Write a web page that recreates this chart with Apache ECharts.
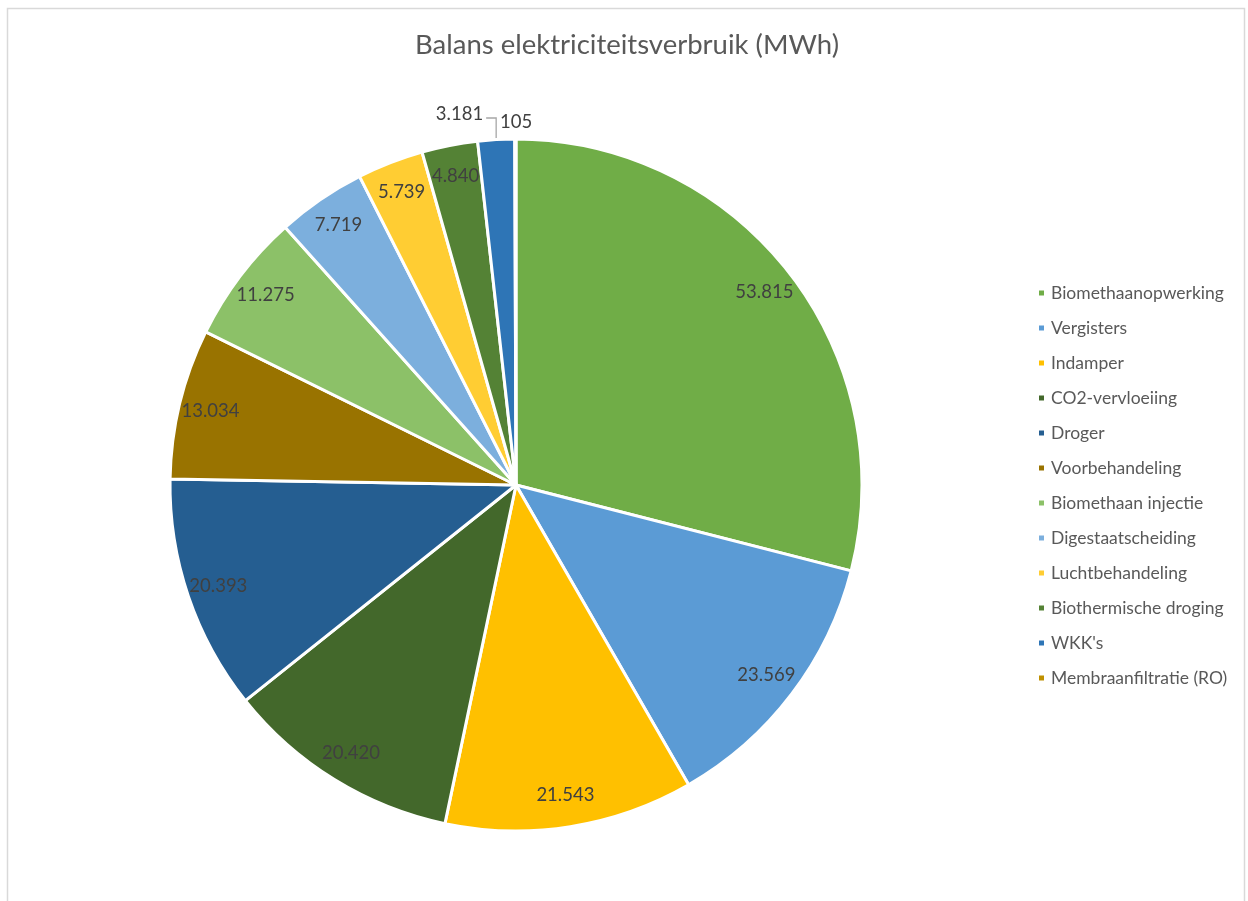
<!DOCTYPE html>
<html>
<head>
<meta charset="utf-8">
<script src="https://cdn.jsdelivr.net/npm/echarts@6/dist/echarts.min.js"></script>
<style>
html,body{margin:0;padding:0;background:#fff;}
#chart{width:1248px;height:901px;}
</style>
</head>
<body>
<div id="chart"></div>
<script>
const categories = ['Biomethaanopwerking','Vergisters','Indamper','CO2-vervloeiing','Droger','Voorbehandeling','Biomethaan injectie','Digestaatscheiding','Luchtbehandeling','Biothermische droging',"WKK's",'Membraanfiltratie (RO)'];
const values = [53815,23569,21543,20420,20393,13034,11275,7719,5739,4840,3181,105];
const colors = ['#70AD47','#5B9BD5','#FFC000','#43682B','#255E91','#997300','#8CC168','#7CAFDD','#FFCD33','#548235','#2E75B6','#BF9000'];
const titleText = 'Balans elektriciteitsverbruik (MWh)';

function fmt(v){ return String(v).replace(/\B(?=(\d{3})+(?!\d))/g,'.'); }

const FONT = 'Lato';
const CX = 516, CY = 485, R = 346;
const LBL = 18.5;

const mainData = categories.map((n,i)=>{
  const d = {name:n, value:values[i], itemStyle:{color:colors[i]}};
  if (i >= categories.length-2) {
    d.label = {show:true, position:'outside', formatter:p=>fmt(p.value), color:'#404040', fontSize:LBL, fontFamily:FONT};
    d.labelLine = {show: i === categories.length-2, length:14, length2:8, lineStyle:{color:'#A6A6A6', width:1.3}};
  }
  return d;
});
const ringData = categories.map((n,i)=>({
  name:n, value:values[i],
  label:{show: i < categories.length-2}
}));

const chart = echarts.init(document.getElementById('chart'), null, {renderer:'canvas'});
chart.setOption({
  animation:false,
  backgroundColor:'#fff',
  color: colors,
  title:{text:titleText, left:622, top:26, textAlign:'center',
    textStyle:{fontFamily:FONT, fontSize:27.5, fontWeight:'normal', color:'#595959'}},
  legend:{
    orient:'vertical', left:1032, top:279, itemGap:17,
    icon:'rect', itemWidth:7, itemHeight:7,
    data:categories,
    textStyle:{fontFamily:FONT, fontSize:17.5, color:'#595959', padding:[0,0,0,1]}
  },
  graphic:[{type:'rect', shape:{x:7.5,y:8.5,width:1237,height:905}, style:{fill:'none', stroke:'#D9D9D9', lineWidth:1.5}, silent:true}],
  series:[
    {
      type:'pie', center:[CX,CY], radius:[0,R], startAngle:90, clockwise:true,
      avoidLabelOverlap:false,
      itemStyle:{borderColor:'#fff', borderWidth:3},
      label:{show:false},
      labelLine:{show:false},
      labelLayout:function(p){
        if (p.dataIndex === categories.length-1) {
          return {x: CX - 16, y: CY - R - 17, align:'left', verticalAlign:'middle'};
        }
        if (p.dataIndex === categories.length-2) {
          const s = p.labelLinePoints ? p.labelLinePoints[0] : [CX-20, CY-R];
          const yy = CY - R - 21;
          return {x: s[0]-13, y: CY - R - 25, align:'right', verticalAlign:'middle',
            labelLinePoints:[[s[0], s[1]],[s[0], yy],[s[0]-10, yy]]};
        }
      },
      data: mainData
    },
    {
      type:'pie', center:[CX,CY], radius:[R*0.8,R], startAngle:90, clockwise:true,
      silent:true, avoidLabelOverlap:false,
      itemStyle:{color:'rgba(0,0,0,0)', borderWidth:0},
      label:{position:'inside', formatter:p=>fmt(p.value), color:'#404040', fontSize:LBL, fontFamily:FONT},
      labelLine:{show:false},
      data: ringData
    }
  ]
});
</script>
</body>
</html>
